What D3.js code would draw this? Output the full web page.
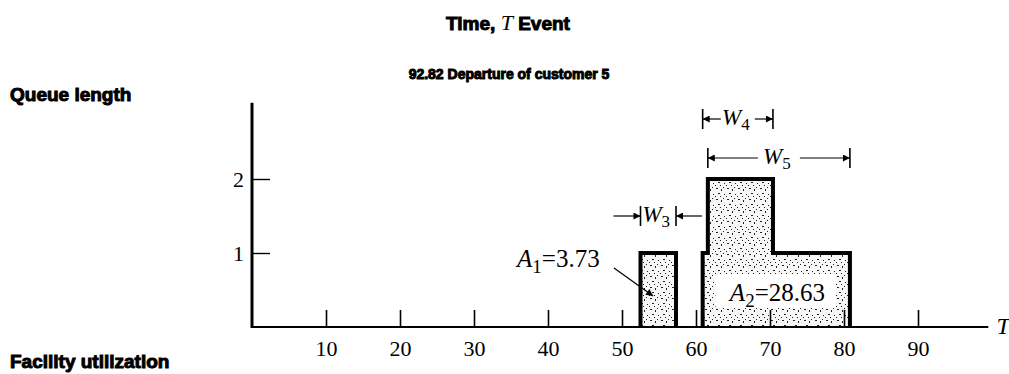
<!DOCTYPE html>
<html><head><meta charset="utf-8">
<script src="https://cdn.jsdelivr.net/npm/d3@7"></script>
<style>
html,body{margin:0;padding:0;background:#fff;}
svg{display:block;}
.hd{font-family:"Liberation Sans",Arial,sans-serif;font-weight:bold;fill:#000;stroke:#000;stroke-width:1px;}
.sr{font-family:"Liberation Serif","Times New Roman",serif;fill:#000;}
</style></head><body>
<svg id="c" width="1009" height="374"></svg>
<script>
// ---- data ----
const eventTimes  = [0, 52.5, 57.3, 60.9, 61.6, 70.4, 80.8, 99.5];
const queueLength = [0, 1,    0,    1,    2,    1,    0,    0];
const xTicks = [10, 20, 30, 40, 50, 60, 70, 80, 90];
const yTicks = [1, 2];
const areaNames  = ["A", "A"];
const areaSubs   = ["1", "2"];
const areaValues = [3.73, 28.63];
const waitSubs  = ["3", "4", "5"];
const waitFrom  = [52.5, 60.9, 61.6];
const waitTo    = [57.3, 70.4, 80.8];
const headerTitle = ["Time, ", "T", " Event"];
const eventLine = "92.82 Departure of customer 5";
const sideLabels = ["Queue length", "Facility utilization"];
const axisLabel = "T";

// ---- setup ----
const svg = d3.select("#c");
const x = d3.scaleLinear().domain([0, 100]).range([252, 992]);
const y = d3.scaleLinear().domain([0, 3]).range([327, 105]);

const defs = svg.append("defs");
const pat = defs.append("pattern").attr("id", "stip").attr("patternUnits", "userSpaceOnUse")
  .attr("width", 11).attr("height", 11);
pat.append("rect").attr("width", 11).attr("height", 11).attr("fill", "#f7f7f7");
[[1,1,2,1],[6,2,1,2],[3,6,2,1],[9,7,1,1],[0,9,1,1],[8,0,1,1],[5,9,1,1]].forEach(d => {
  pat.append("rect").attr("x", d[0]).attr("y", d[1]).attr("width", d[2]).attr("height", d[3]).attr("fill", "#222");
});
defs.append("marker").attr("id", "arr").attr("viewBox", "0 0 10 10")
  .attr("refX", 10).attr("refY", 5).attr("markerWidth", 10).attr("markerHeight", 7)
  .attr("markerUnits", "userSpaceOnUse").attr("orient", "auto")
  .append("path").attr("d", "M0,0 L10,5 L0,10 Z").attr("fill", "#000");

// headers
const t1 = svg.append("text").attr("x", 508).attr("y", 30).attr("text-anchor", "middle").attr("class", "hd").style("font-size", "19px");
t1.append("tspan").text(headerTitle[0]);
t1.append("tspan").attr("class", "sr").style("font-weight", "normal").style("font-style", "italic")
  .style("stroke", "none").style("font-size", "22px").text(headerTitle[1]);
t1.append("tspan").text(headerTitle[2]);

svg.append("text").attr("x", 509).attr("y", 79).attr("text-anchor", "middle").attr("class", "hd")
  .style("font-size", "14px").text(eventLine);
svg.append("text").attr("x", 10).attr("y", 101).attr("class", "hd").style("font-size", "19px").text(sideLabels[0]);
svg.append("text").attr("x", 10).attr("y", 368).attr("class", "hd").style("font-size", "19px").text(sideLabels[1]);

// area fill
const pts = eventTimes.map((t, i) => ({t, q: queueLength[i]}));
const area = d3.area().curve(d3.curveStepAfter).x(d => x(d.t)).y0(y(0)).y1(d => y(d.q));
svg.append("path").datum(pts).attr("d", area).attr("fill", "url(#stip)");

// white box behind A2 label
const a2x = x(70.6), a2y = y(0.46);
svg.append("rect").attr("x", a2x - 59).attr("y", a2y - 19).attr("width", 120).attr("height", 34).attr("fill", "#fff");

// axes
const xAxis = d3.axisBottom(x).tickValues(xTicks).tickSizeInner(-17).tickSizeOuter(0).tickPadding(13);
const gx = svg.append("g").attr("transform", `translate(0,${y(0)})`).call(xAxis);
gx.select(".domain").remove();
gx.selectAll(".tick line").attr("stroke", "#000").attr("stroke-width", 1.6);
gx.selectAll("text").attr("class", "sr").style("font-size", "22px").attr("fill", "#000");

const yAxis = d3.axisLeft(y).tickValues(yTicks).tickFormat(d3.format("d")).tickSizeInner(-18).tickSizeOuter(0).tickPadding(8);
const gy = svg.append("g").attr("transform", `translate(${x(0)},0)`).call(yAxis);
gy.select(".domain").remove();
gy.selectAll(".tick line").attr("stroke", "#000").attr("stroke-width", 1.4);
gy.selectAll("text").attr("class", "sr").style("font-size", "22px").attr("fill", "#000");

svg.append("line").attr("x1", x(0) - 1).attr("x2", x(99.5)).attr("y1", y(0)).attr("y2", y(0))
  .attr("stroke", "#000").attr("stroke-width", 2.2);
svg.append("line").attr("x1", x(0)).attr("x2", x(0)).attr("y1", y(0) + 1).attr("y2", y(3.03))
  .attr("stroke", "#000").attr("stroke-width", 3);
svg.append("text").attr("class", "sr").attr("x", x(100.6)).attr("y", y(0) + 7)
  .style("font-size", "24px").style("font-style", "italic").text(axisLabel);

// step outline, per busy period
const segs = []; let cur = null;
pts.forEach(p => {
  if (p.q > 0) { if (!cur) cur = [{t: p.t, q: 0}]; cur.push(p); }
  else if (cur) { cur.push({t: p.t, q: 0}); segs.push(cur); cur = null; }
});
const line = d3.line().curve(d3.curveStepAfter).x(d => x(d.t)).y(d => y(d.q));
segs.forEach(s => svg.append("path").datum(s).attr("d", line).attr("fill", "none")
  .attr("stroke", "#000").attr("stroke-width", 4).attr("stroke-linejoin", "miter"));

// area labels
function subText(g, xx, yy, name, sub, rest, anchor) {
  const t = g.append("text").attr("class", "sr").attr("x", xx).attr("y", yy).attr("text-anchor", anchor).style("font-size", "25px");
  t.append("tspan").style("font-style", "italic").text(name);
  t.append("tspan").attr("dy", 6).style("font-size", "19px").text(sub);
  t.append("tspan").attr("dy", -6).text(rest);
  return t;
}
subText(svg, 517, 267, areaNames[0], areaSubs[0], "=" + areaValues[0].toFixed(2), "start");
svg.append("line").attr("x1", 614).attr("y1", 268).attr("x2", x(54.2)).attr("y2", y(0.42))
  .attr("stroke", "#000").attr("stroke-width", 1.2).attr("marker-end", "url(#arr)");
subText(svg, a2x + 3, a2y + 8, areaNames[1], areaSubs[1], "=" + areaValues[1].toFixed(2), "middle");

// waiting-time annotations
const wY = [216, 119, 158];
waitSubs.forEach((s, i) => {
  const x0 = x(waitFrom[i]), x1 = x(waitTo[i]), yy = wY[i];
  const g = svg.append("g");
  [x0, x1].forEach(xx => g.append("line").attr("x1", xx).attr("x2", xx).attr("y1", yy - 10).attr("y2", yy + 10)
    .attr("stroke", "#000").attr("stroke-width", 1.6));
  const cx = (x0 + x1) / 2;
  const t = g.append("text").attr("class", "sr").attr("x", cx - 2).attr("y", yy + 6).attr("text-anchor", "middle").style("font-size", "23px");
  t.append("tspan").style("font-style", "italic").text("W");
  t.append("tspan").attr("dy", 5).style("font-size", "17px").text(s);
  if (i === 0) {
    g.append("line").attr("x1", x0 - 27).attr("x2", x0).attr("y1", yy).attr("y2", yy).attr("stroke", "#000").attr("stroke-width", 1.2).attr("marker-end", "url(#arr)");
    g.append("line").attr("x1", x1 + 26).attr("x2", x1).attr("y1", yy).attr("y2", yy).attr("stroke", "#000").attr("stroke-width", 1.2).attr("marker-end", "url(#arr)");
  } else {
    const half = i === 1 ? 17 : 21;
    g.append("line").attr("x1", cx - half).attr("x2", x0).attr("y1", yy).attr("y2", yy).attr("stroke", "#000").attr("stroke-width", 1.2).attr("marker-end", "url(#arr)");
    g.append("line").attr("x1", cx + half).attr("x2", x1).attr("y1", yy).attr("y2", yy).attr("stroke", "#000").attr("stroke-width", 1.2).attr("marker-end", "url(#arr)");
  }
});
</script>
</body></html>
